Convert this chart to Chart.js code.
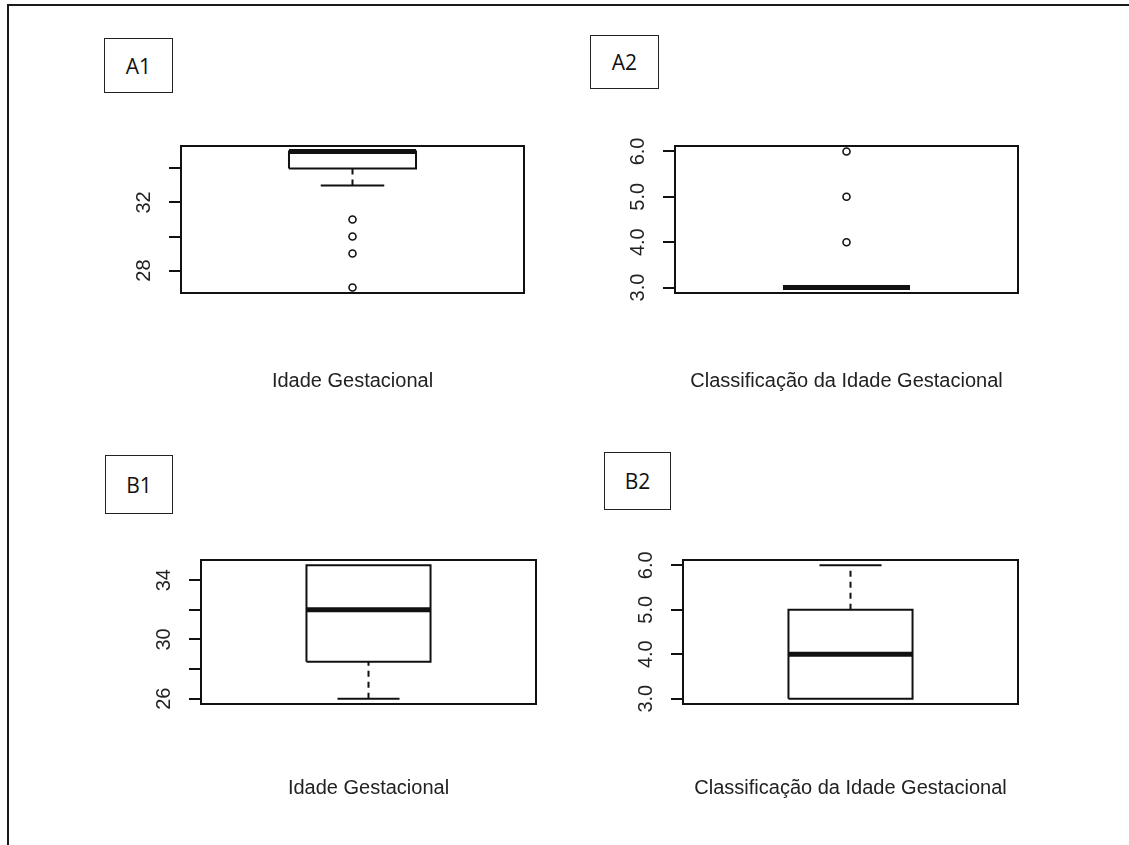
<!DOCTYPE html>
<html>
<head>
<meta charset="utf-8">
<script src="https://cdn.jsdelivr.net/npm/chart.js@4.4.1/dist/chart.umd.min.js"></script>
<style>
  html, body { margin: 0; padding: 0; background: #fff; }
  #page { position: relative; width: 1129px; height: 845px; overflow: hidden; background: #fff; }
  #frame { position: absolute; left: 7px; top: 4px; width: 1140px; height: 860px;
           border-left: 2.5px solid #1a1a1a; border-top: 2.5px solid #1a1a1a; }
  .tag { position: absolute; box-sizing: border-box; border: 1.5px solid #222; background: #fff;
         font-family: "Open Sans", "Noto Sans", sans-serif; font-size: 21px; color: #111;
         display: flex; align-items: center; justify-content: center; }
  canvas { position: absolute; }
</style>
</head>
<body>
<div id="page">
  <div id="frame"></div>
</div>
<script>
const a1Stats = [33, 34, 35, 35, 35];
const a1Outliers = [31, 30, 29, 27];
const a1Ticks = [28, 30, 32, 34];
const a1TickLabels = ['28', '', '32', ''];

const a2Stats = [3, 3, 3, 3, 3];
const a2Outliers = [6, 5, 4];
const a2Ticks = [3, 3.5, 4, 4.5, 5, 5.5, 6];
const a2TickLabels = ['3.0', '', '4.0', '', '5.0', '', '6.0'];

const b1Stats = [26, 28.5, 32, 35, 35];
const b1Outliers = [];
const b1Ticks = [26, 28, 30, 32, 34];
const b1TickLabels = ['26', '', '30', '', '34'];

const b2Stats = [3, 3, 4, 5, 6];
const b2Outliers = [];
const b2Ticks = [3, 3.5, 4, 4.5, 5, 5.5, 6];
const b2TickLabels = ['3.0', '', '4.0', '', '5.0', '', '6.0'];

const panelNames = ['A1', 'A2', 'B1', 'B2'];
const xTitles = ['Idade Gestacional', 'Classificação da Idade Gestacional',
                 'Idade Gestacional', 'Classificação da Idade Gestacional'];

// Posições (área do gráfico e caixas de rótulo)
const plotBoxes = [
    { left: 181, top: 146, width: 343, height: 147, titleY: 381 },
    { left: 675, top: 146, width: 343, height: 147, titleY: 381 },
    { left: 201, top: 560, width: 335, height: 144, titleY: 788 },
    { left: 683, top: 560, width: 335, height: 144, titleY: 788 }
];
const tagBoxes = [
    { left: 104, top: 38, width: 69, height: 55 },
    { left: 590, top: 35, width: 69, height: 54 },
    { left: 105, top: 455, width: 68, height: 59 },
    { left: 604, top: 452, width: 67, height: 58 }
];

const LEFT_W = 80, PAD_T = 10, PAD_R = 10, TICK_LEN = 12, LABEL_OFFSET = 36.5;
const FONT = 'Liberation Sans, Arial, sans-serif';
const FONT_SIZE = 20;
const INK = '#111';
const TEXT = '#222';

const page = document.getElementById('page');

// caixas A1, A2, B1, B2
tagBoxes.forEach((b, i) => {
    const d = document.createElement('div');
    d.className = 'tag';
    d.style.left = b.left + 'px';
    d.style.top = b.top + 'px';
    d.style.width = b.width + 'px';
    d.style.height = b.height + 'px';
    d.textContent = panelNames[i];
    page.appendChild(d);
});

// moldura da área de plotagem (estilo R)
const boxFrame = {
    id: 'boxFrame',
    afterDraw(chart) {
        const a = chart.chartArea;
        const ctx = chart.ctx;
        ctx.save();
        ctx.strokeStyle = INK;
        ctx.lineWidth = 2;
        ctx.strokeRect(a.left, a.top, a.right - a.left, a.bottom - a.top);
        ctx.restore();
    }
};

function measure(labels) {
    const c = document.createElement('canvas').getContext('2d');
    c.font = FONT_SIZE + 'px ' + FONT;
    return Math.max(...labels.map(l => c.measureText(l).width));
}

function seg(x1, y1, x2, y2, width, dash) {
    return {
        type: 'scatter',
        showLine: true,
        data: [{ x: x1, y: y1 }, { x: x2, y: y2 }],
        borderColor: INK,
        borderWidth: width,
        borderDash: dash || [],
        borderCapStyle: 'butt',
        pointRadius: 0,
        fill: false
    };
}

function boxDatasets(stats, outliers) {
    const [lo, q1, med, q3, hi] = stats;
    const sets = [];
    // mediana
    sets.push(seg(0.8, med, 1.2, med, 5));
    // caixa
    sets.push({
        type: 'scatter',
        showLine: true,
        data: [{ x: 0.8, y: q1 }, { x: 1.2, y: q1 }, { x: 1.2, y: q3 }, { x: 0.8, y: q3 }, { x: 0.8, y: q1 }],
        borderColor: INK,
        borderWidth: 2,
        borderJoinStyle: 'miter',
        pointRadius: 0,
        fill: false
    });
    // bigodes
    if (hi > q3) {
        sets.push(seg(1, q3, 1, hi, 2, [6, 5]));
        sets.push(seg(0.9, hi, 1.1, hi, 2));
    }
    if (lo < q1) {
        sets.push(seg(1, lo, 1, q1, 2, [6, 5]));
        sets.push(seg(0.9, lo, 1.1, lo, 2));
    }
    // outliers
    if (outliers.length) {
        sets.push({
            type: 'scatter',
            data: outliers.map(v => ({ x: 1, y: v })),
            pointRadius: 3.5,
            pointBorderWidth: 1.6,
            pointBorderColor: INK,
            pointBackgroundColor: 'rgba(0,0,0,0)',
            showLine: false
        });
    }
    return sets;
}

function makePanel(idx, stats, outliers, ticks, tickLabels) {
    const L = plotBoxes[idx];
    const bottomH = (L.titleY - (L.top + L.height)) + 30;
    const canvas = document.createElement('canvas');
    const w = LEFT_W + L.width + PAD_R;
    const h = PAD_T + L.height + bottomH;
    canvas.width = w;
    canvas.height = h;
    canvas.style.left = (L.left - LEFT_W) + 'px';
    canvas.style.top = (L.top - PAD_T) + 'px';
    canvas.style.width = w + 'px';
    canvas.style.height = h + 'px';
    page.appendChild(canvas);

    const all = stats.concat(outliers);
    const dMin = Math.min(...all), dMax = Math.max(...all);
    const ext = (dMax - dMin) * 0.04;
    const labelPad = LABEL_OFFSET - TICK_LEN - measure(tickLabels) / 2;

    return new Chart(canvas.getContext('2d'), {
        type: 'scatter',
        data: { datasets: boxDatasets(stats, outliers) },
        options: {
            responsive: false,
            animation: false,
            events: [],
            layout: { padding: { top: PAD_T, right: PAD_R, left: 0, bottom: 0 } },
            plugins: {
                legend: { display: false },
                tooltip: { enabled: false }
            },
            scales: {
                x: {
                    type: 'linear',
                    min: 0.46,
                    max: 1.54,
                    grid: { display: false },
                    border: { display: false },
                    ticks: { display: false },
                    title: {
                        display: true,
                        text: xTitles[idx],
                        color: TEXT,
                        font: { family: FONT, size: FONT_SIZE, lineHeight: 1.2 },
                        padding: { top: 0, bottom: 30 - FONT_SIZE * 1.2 / 2 }
                    },
                    afterFit(s) {
                        s.height = bottomH;
                        s.paddingLeft = 0;
                        s.paddingRight = 0;
                    }
                },
                y: {
                    type: 'linear',
                    min: dMin - ext,
                    max: dMax + ext,
                    afterBuildTicks(s) { s.ticks = ticks.map(v => ({ value: v })); },
                    ticks: {
                        callback: (v, i) => tickLabels[i],
                        minRotation: 90,
                        maxRotation: 90,
                        crossAlign: 'center',
                        padding: labelPad,
                        color: TEXT,
                        font: { family: FONT, size: FONT_SIZE }
                    },
                    grid: {
                        drawOnChartArea: false,
                        drawTicks: true,
                        tickLength: TICK_LEN,
                        color: INK,
                        lineWidth: 2
                    },
                    border: { display: false },
                    afterFit(s) {
                        s.width = LEFT_W;
                        s.paddingTop = 0;
                        s.paddingBottom = 0;
                    }
                }
            }
        },
        plugins: [boxFrame]
    });
}

makePanel(0, a1Stats, a1Outliers, a1Ticks, a1TickLabels);
makePanel(1, a2Stats, a2Outliers, a2Ticks, a2TickLabels);
makePanel(2, b1Stats, b1Outliers, b1Ticks, b1TickLabels);
makePanel(3, b2Stats, b2Outliers, b2Ticks, b2TickLabels);
</script>
</body>
</html>
